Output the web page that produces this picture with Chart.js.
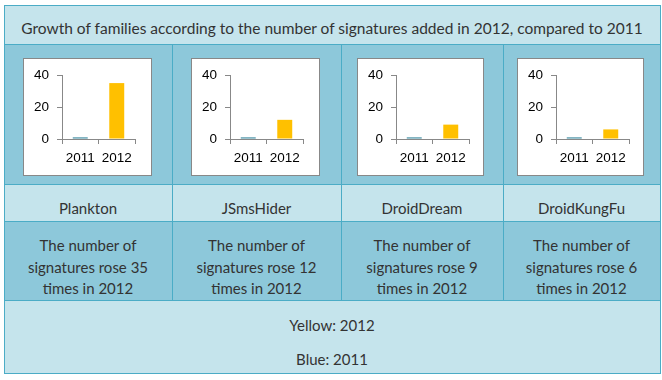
<!DOCTYPE html>
<html><head><meta charset="utf-8">
<script src="https://cdn.jsdelivr.net/npm/chart.js@4/dist/chart.umd.min.js"></script>
<style>
html,body{margin:0;padding:0;background:#fff;}
body{width:662px;height:380px;position:relative;overflow:hidden;font-family:Lato,"Open Sans",sans-serif;color:#333;}
.abs{position:absolute;}
.light{background:#c5e4ec;}
.dark{background:#8dc8da;}
.hl{position:absolute;height:1px;background:#4bacc6;}
.vl{position:absolute;width:1px;background:#4bacc6;}
.txt{position:absolute;text-align:center;font-size:15px;white-space:nowrap;}
.box{position:absolute;background:#fff;border:1px solid #888;box-sizing:border-box;}
.box canvas{display:block;}
</style></head><body>
<div id="root"></div>
<script>
const title = 'Growth of families according to the number of signatures added in 2012, compared to 2011';
const families = ['Plankton', 'JSmsHider', 'DroidDream', 'DroidKungFu'];
const years = ['2011', '2012'];
const sig2011 = [1, 1, 1, 1];
const sig2012 = [35, 12, 9, 6];
const riseFactors = [35, 12, 9, 6];
const yTicks = [0, 20, 40];
const legendLines = ['Yellow: 2012', 'Blue: 2011'];

const colX = [4, 172, 341, 503, 660];
const rowY = [5, 44, 184, 221, 300, 373];
const boxOff = [19, 19, 16, 14];
const boxW = [129, 129, 127, 127];

const root = document.getElementById('root');
function el(cls, css, html){ const d=document.createElement('div'); d.className=cls; Object.assign(d.style,css); if(html!==undefined) d.innerHTML=html; root.appendChild(d); return d; }

const rowCls = ['light','dark','light','dark','light'];
for(let i=0;i<5;i++) el('abs '+rowCls[i],{left:colX[0]+'px',top:rowY[i]+'px',width:(colX[4]-colX[0])+'px',height:(rowY[i+1]-rowY[i])+'px'});
for(let i=0;i<6;i++) el('hl',{left:colX[0]+'px',top:rowY[i]+'px',width:(colX[4]-colX[0]+1)+'px'});
el('vl',{left:colX[0]+'px',top:rowY[0]+'px',height:(rowY[5]-rowY[0])+'px'});
el('vl',{left:colX[4]+'px',top:rowY[0]+'px',height:(rowY[5]-rowY[0]+1)+'px'});
for(let c=1;c<4;c++) el('vl',{left:colX[c]+'px',top:rowY[1]+'px',height:(rowY[4]-rowY[1])+'px'});

el('txt',{left:colX[0]+'px',width:(colX[4]-colX[0])+'px',top:'17px',lineHeight:'22px',fontSize:'15.5px'},title);
families.forEach((f,i)=>{
  const w=colX[i+1]-colX[i];
  el('txt',{left:colX[i]+'px',width:w+'px',top:'197px',lineHeight:'22px'},f);
  el('txt',{left:colX[i]+'px',width:w+'px',top:'235px',lineHeight:'21.5px',whiteSpace:'normal'},
     'The number of<br>signatures rose '+riseFactors[i]+'<br>times in 2012');
});
el('txt',{left:colX[0]+'px',width:(colX[4]-colX[0])+'px',top:'314px',lineHeight:'22px'},legendLines[0]);
el('txt',{left:colX[0]+'px',width:(colX[4]-colX[0])+'px',top:'348px',lineHeight:'22px'},legendLines[1]);

const boxTop = 58, boxH = 118;
families.forEach((f,i)=>{
  const b = el('box',{left:(colX[i]+boxOff[i])+'px',top:boxTop+'px',width:boxW[i]+'px',height:boxH+'px'});
  const cv = document.createElement('canvas');
  const cw = boxW[i]-2, ch = boxH-2;
  cv.width=cw; cv.height=ch; cv.style.width=cw+'px'; cv.style.height=ch+'px';
  b.appendChild(cv);
  new Chart(cv,{
    type:'bar',
    data:{labels:years,datasets:[{data:[sig2011[i],sig2012[i]],backgroundColor:['#31849b','#ffc000'],borderWidth:0,categoryPercentage:1,barPercentage:0.41}]},
    options:{
      responsive:false,animation:false,devicePixelRatio:1,
      layout:{padding:{top:15,right:cw-111,left:0,bottom:0}},
      plugins:{legend:{display:false},tooltip:{enabled:false},title:{display:false}},
      scales:{
        x:{
          grid:{display:true,drawOnChartArea:false,drawTicks:true,tickLength:5,color:'#888',offset:true},
          border:{display:true,color:'#888',width:1,z:-1},
          ticks:{color:'#000',font:{family:'Liberation Sans',size:13.5},padding:6,maxRotation:0},
          afterFit:(s)=>{s.height=36;}
        },
        y:{
          min:0,max:40,
          afterBuildTicks:(s)=>{s.ticks=yTicks.map(v=>({value:v}));},
          grid:{display:true,drawOnChartArea:false,drawTicks:true,tickLength:5,color:'#888'},
          border:{display:true,color:'#888',width:1},
          ticks:{color:'#000',font:{family:'Liberation Sans',size:13.5},padding:8},
          afterFit:(s)=>{s.width=38;}
        }
      }
    }
  });
});
</script>
</body></html>
